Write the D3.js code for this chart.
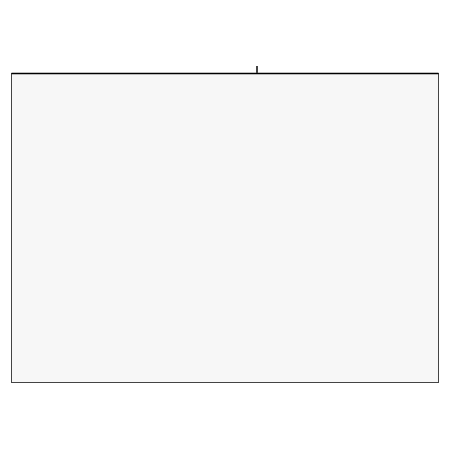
<!DOCTYPE html>
<html>
<head>
<meta charset="utf-8">
<script src="https://cdn.jsdelivr.net/npm/d3@7"></script>
<style>
  body { margin: 0; background: #fff; }
  svg { display: block; }
</style>
</head>
<body>
<div id="root"></div>
<script>
// chart data
var xDomain = [0, 100];
var tickValues = [57.5];
var tickLabels = [""];

var w = 450, h = 450;
var margin = { top: 73, right: 12, bottom: 68, left: 11 };
var innerW = w - margin.left - margin.right;
var innerH = h - margin.top - margin.bottom;

var svg = d3.select("#root").append("svg").attr("width", w).attr("height", h);
var g = svg.append("g").attr("transform", "translate(" + margin.left + "," + margin.top + ")");

var x = d3.scaleLinear().domain(xDomain).range([0, innerW]);

// plot background
g.append("rect")
  .attr("x", 0.5).attr("y", 0.5)
  .attr("width", innerW).attr("height", innerH)
  .style("fill", "#f7f7f7")
  .style("stroke", "#444")
  .style("stroke-width", 1);

// top axis
var axis = d3.axisTop(x)
  .tickValues(tickValues)
  .tickFormat(function(d, i) { return tickLabels[i]; })
  .tickSizeOuter(0)
  .tickSizeInner(7);

var ax = g.append("g").attr("class", "axis").call(axis);
ax.select(".domain").style("stroke", "#000").style("stroke-width", 1.5);
ax.selectAll(".tick line").style("stroke", "#444").style("stroke-width", 2);
</script>
</body>
</html>
